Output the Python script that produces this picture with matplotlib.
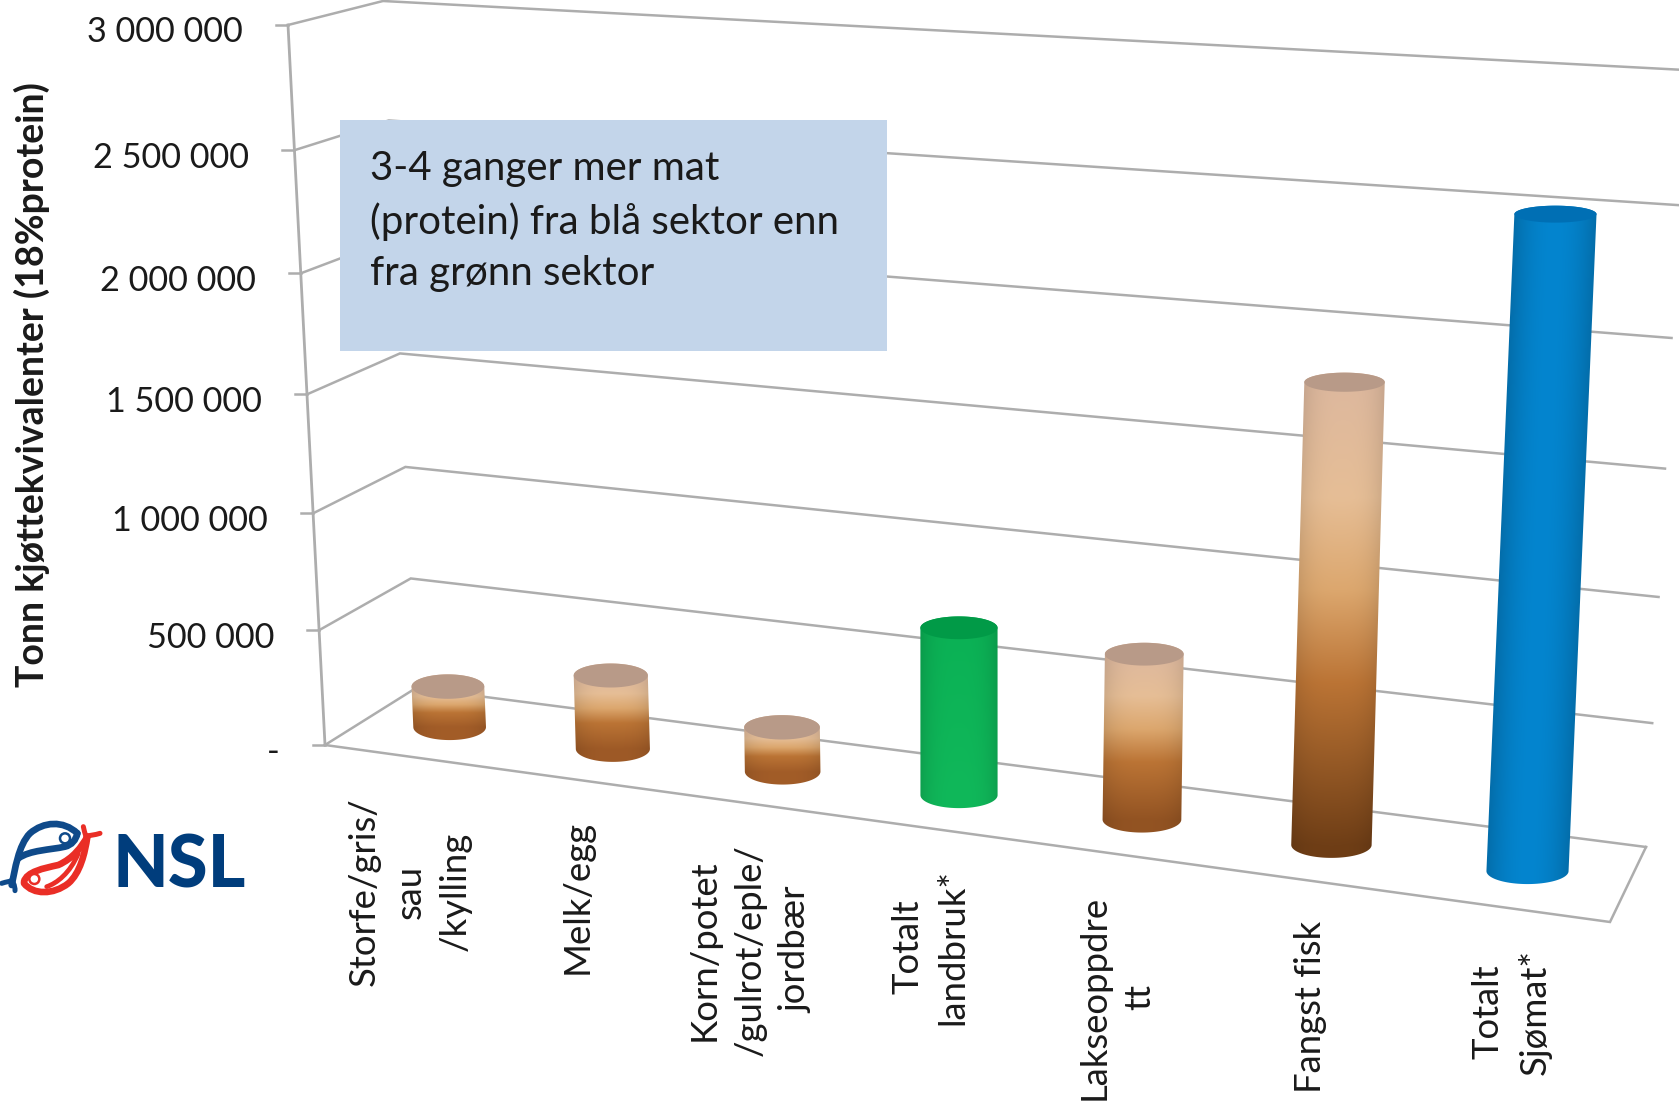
import numpy as np
import matplotlib
matplotlib.use("Agg")
import matplotlib.pyplot as plt
from matplotlib.patches import Polygon, Rectangle, Circle, PathPatch
from matplotlib.path import Path
from matplotlib.colors import to_rgb

categories = ["Storfe/gris/\nsau\n/kylling", "Melk/egg", "Korn/potet\n/gulrot/eple/\njordbær",
              "Totalt\nlandbruk*", "Lakseoppdre\ntt", "Fangst fisk", "Totalt\nSjømat*"]
values = [180000, 320000, 190000, 700000, 680000, 1830000, 2520000]
series_kind = ["brown", "brown", "brown", "green", "brown", "brown", "blue"]
y_ticks = [0, 500000, 1000000, 1500000, 2000000, 2500000, 3000000]
y_tick_labels = ["-", "500 000", "1 000 000", "1 500 000", "2 000 000", "2 500 000", "3 000 000"]
y_title = "Tonn kjøttekvivalenter (18%protein)"
note = "3-4 ganger mer mat\n(protein) fra blå sektor enn\nfra grønn sektor"
Y_MAX = 3000000

plt.rcParams['font.family'] = ['Lato', 'DejaVu Sans']
W, H = 1679, 1101
fig = plt.figure(figsize=(W / 100, H / 100), dpi=100)
ax = fig.add_axes([0, 0, 1, 1])
ax.set_xlim(0, W); ax.set_ylim(H, 0); ax.axis('off')

# oblique view of the chart box (screen position of the four floor corners and of the height vector there)
FL, FR, BR, BL = map(np.array, [(325, 745), (1610, 922), (1646, 847), (416, 688)])
VFL, VFR, VBR, VBL = map(np.array, [(-37, -720), (40, -815), (39, -777), (-33, -687)])
GRID = '#ADADAD'


def warp_u(u):
    return 0.872 * u + 0.128 * u ** 2


def warp_v(v):
    t = v / Y_MAX
    return 0.948 * t + 0.052 * t ** 2


def project(u, d, v):
    """u along categories (already warped), d depth 0=front 1=back, v value."""
    floor = (1 - d) * ((1 - u) * FL + u * FR) + d * ((1 - u) * BL + u * BR)
    up = (1 - d) * ((1 - u) * VFL + u * VFR) + d * ((1 - u) * VBL + u * VBR)
    return floor + up * warp_v(v)


# walls and floor
for v in y_ticks:
    pts = np.array([project(0, 0, v), project(0, 1, v), project(1, 1, v)])
    ax.plot(pts[:, 0], pts[:, 1], color=GRID, lw=1.8, solid_joinstyle='miter', zorder=1)
    p = pts[0]
    ax.plot([p[0] - 12, p[0]], [p[1], p[1]], color=GRID, lw=1.8, zorder=1)
for v, lab in zip(y_ticks, y_tick_labels):
    p = project(0, 0, v)
    ax.text(p[0] - 45, p[1] + (7 if v == 0 else 7.5), lab, ha='right', va='center',
            fontsize=24.7, color='#1a1a1a', zorder=5)
axis = np.array([project(0, 0, 0), project(0, 0, Y_MAX)])
ax.plot(axis[:, 0], axis[:, 1], color=GRID, lw=2.0, zorder=1)
fl = np.array([project(0, 0, 0), project(1, 0, 0), project(1, 1, 0)])
ax.plot(fl[:, 0], fl[:, 1], color=GRID, lw=1.8, solid_joinstyle='miter', zorder=1)


def rgb(c):
    return np.array(to_rgb(c))


def cylinder(u, v, kind, z):
    B = project(u, 0.5, 0)
    T = project(u, 0.5, v)
    w = 36 + 5.5 * u
    ry_b = 13.0
    ry_t = 12.5 - 1.6 * v / 1e6
    th = np.linspace(0, np.pi, 60)
    top_far = np.c_[T[0] - w * np.cos(th), T[1] - ry_t * np.sin(th)]
    bot_near = np.c_[B[0] + w * np.cos(th), B[1] + ry_b * np.sin(th)]
    outline = np.r_[top_far, bot_near]
    x0, x1 = outline[:, 0].min() - 2, outline[:, 0].max() + 2
    y0, y1 = outline[:, 1].min() - 2, outline[:, 1].max() + 2
    nx, ny = int((x1 - x0) * 2), int((y1 - y0) * 2)
    X, Y = np.meshgrid(np.linspace(x0, x1, nx), np.linspace(y0, y1, ny))
    t = np.clip((Y - T[1]) / (B[1] - T[1]), 0, 1)
    xc = T[0] + (B[0] - T[0]) * t
    s = np.clip((X - xc) / w, -1, 1)
    if kind == "brown":
        k = min(1, v / 1.8e6)
        end = (1 - k) * rgb('#A8602A') + k * rgb('#6F3E16')
        stops = [0, .25, .45, .65, 1]
        cols = [rgb('#DDB89E'), rgb('#E6BE96'), rgb('#DCA76E'), rgb('#BB7435'), end]
        shade = 1 - 0.10 * np.abs(s) ** 3
        cap = '#B89A88'
    elif kind == "green":
        stops = [0, 1]
        cols = [rgb('#0BB155'), rgb('#10B85A')]
        shade = 1 - 0.13 * np.abs(s) ** 3
        cap = '#019A47'
    else:
        stops = [0, 1]
        cols = [rgb('#0485CF'), rgb('#0485CF')]
        shade = 1 - 0.18 * np.abs(s) ** 2
        cap = '#006FB4'
    img = np.stack([np.interp(t, stops, [c[i] for c in cols]) for i in range(3)], axis=-1) * shade[..., None]
    poly = Polygon(outline, closed=True, fc='none', ec='none', transform=ax.transData)
    ax.add_patch(poly)
    im = ax.imshow(np.clip(img, 0, 1), extent=(x0, x1, y1, y0), aspect='auto', zorder=z, interpolation='bilinear')
    im.set_clip_path(poly)
    phi = np.linspace(0, 2 * np.pi, 80)
    ax.add_patch(Polygon(np.c_[T[0] + w * np.cos(phi), T[1] + ry_t * np.sin(phi)], closed=True,
                         fc=cap, ec='none', zorder=z + .1))


for i, (lab, val, kind) in enumerate(zip(categories, values, series_kind)):
    u = warp_u((i + 0.5) / len(categories))
    cylinder(u, val, kind, 2 + i * 0.2)
    a = project(u, 0, 0)
    ax.text(a[0] + 4, a[1] + 41, lab, rotation=90, ha='center', va='top', multialignment='center',
            fontsize=26.3, linespacing=1.47, color='#1a1a1a', zorder=5)
ax.set_xlim(0, W); ax.set_ylim(H, 0)

# y title
ax.text(32, 385, y_title, rotation=90, ha='center', va='center', fontsize=27, fontweight='bold', color='#1a1a1a')

# note box
ax.add_patch(Rectangle((340, 120), 547, 231, fc='#C3D5EA', ec='none', zorder=6))
ax.text(370, 221, note, ha='left', va='center', fontsize=29, linespacing=1.48, color='#1a1a1a', zorder=7)

# NSL logo
ax.text(112, 887, "NSL", ha='left', va='baseline', fontsize=52, fontweight='black', color='#003D7C', zorder=5)


def Z(x, y):
    return (x / 3, 620 + y / 3)


def curve(points, color, lw=4.8):
    verts = [Z(*p) for p in points]
    codes = [Path.MOVETO] + [Path.CURVE4] * (len(verts) - 1)
    ax.add_patch(PathPatch(Path(verts, codes), fc='none', ec=color, lw=lw, capstyle='round', zorder=5))


NAVY, RED = '#0F4A8A', '#EA2E26'
curve([(232, 640), (190, 600), (130, 605), (90, 640), (55, 675), (45, 750), (35, 795)], NAVY)
curve([(55, 715), (90, 690), (150, 690), (195, 680), (215, 675), (228, 660), (232, 640)], NAVY)
curve([(5, 790), (20, 785), (30, 785), (40, 780)], NAVY, 3.6)
curve([(35, 780), (45, 795), (45, 805), (45, 812)], NAVY, 3.6)
curve([(72, 790), (100, 825), (160, 825), (205, 790), (240, 760), (255, 700), (262, 650)], RED)
curve([(72, 785), (80, 755), (130, 745), (175, 735), (220, 715), (245, 680), (262, 650)], RED)
curve([(140, 800), (170, 790), (210, 760), (235, 700)], RED, 3.4)
curve([(258, 650), (270, 645), (285, 645), (300, 640)], RED, 3.6)
curve([(258, 650), (255, 640), (252, 630), (250, 620)], RED, 3.6)
ax.add_patch(Circle(Z(195, 655), 5, fc='white', ec=NAVY, lw=1.8, zorder=6))
ax.add_patch(Circle(Z(103, 777), 5, fc='white', ec=RED, lw=1.8, zorder=6))

fig.savefig("out.png", dpi=100, facecolor='white')
